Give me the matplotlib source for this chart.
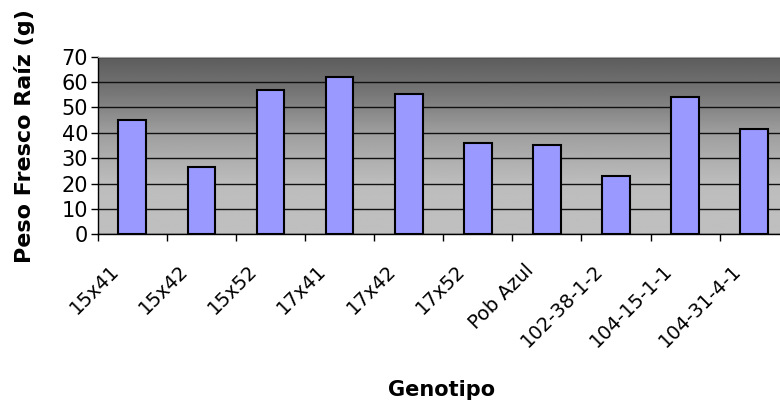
import matplotlib
matplotlib.use('Agg')
import matplotlib.pyplot as plt
from matplotlib.transforms import ScaledTranslation
import numpy as np

genotipos = ['15x41', '15x42', '15x52', '17x41', '17x42', '17x52',
             'Pob Azul', '102-38-1-2', '104-15-1-1', '104-31-4-1']
peso_raiz = [45, 26.5, 57, 62, 55.2, 36, 35.2, 23.1, 54.1, 41.4]
y_ticks = [0, 10, 20, 30, 40, 50, 60, 70]

plt.rcParams['font.family'] = ['DejaVu Sans']

fig = plt.figure(figsize=(7.8, 4.05), dpi=100)
# plot area is wider than the picture on the right, like the original
ax = fig.add_axes([0.1253, 0.4215, 0.886, 0.4385])

x = np.arange(len(genotipos))

# grey gradient background (dark at top, light at bottom)
ys = np.linspace(70, 0, 200)
shade = np.interp(ys, [0, 20, 40, 55, 70], [0.75, 0.74, 0.62, 0.47, 0.36])
ax.imshow(shade.reshape(-1, 1), extent=[-0.5, len(genotipos) - 0.5, 0, 70],
          aspect='auto', cmap='gray', vmin=0, vmax=1, zorder=0)

ax.bar(x, peso_raiz, width=0.4, color='#9999FF', edgecolor='black',
       linewidth=1.5, zorder=2)

ax.set_xlim(-0.5, len(genotipos) - 0.5)
ax.set_ylim(0, 70)
ax.set_yticks(y_ticks)
ax.set_yticklabels([str(v) for v in y_ticks], fontsize=15)
ax.set_axisbelow(True)
ax.yaxis.grid(True, color='#111111', linewidth=1.0)

ax.set_xticks(x)
ax.set_xticklabels(genotipos, fontsize=14, rotation=45, ha='right',
                   va='center', rotation_mode='anchor')
ax.set_xticks(np.arange(len(genotipos) + 1) - 0.5, minor=True)
ax.tick_params(axis='x', which='major', length=0, pad=24)
ax.tick_params(axis='x', which='minor', length=5, width=1, color='black')
ax.tick_params(axis='y', length=5, width=1, pad=2)
for lbl in ax.get_xticklabels():
    lbl.set_transform(lbl.get_transform() + ScaledTranslation(-0.16, 0, fig.dpi_scale_trans))

ax.spines['right'].set_visible(False)
ax.spines['top'].set_color('#a6a6a6')
ax.spines['left'].set_linewidth(1.0)
ax.spines['bottom'].set_linewidth(1.0)

fig.text(25 / 780, 1 - 136 / 405, 'Peso Fresco Raíz (g)', rotation=90,
         ha='center', va='center', fontsize=16, fontweight='bold')
fig.text(442 / 780, 1 - 390 / 405, 'Genotipo', ha='center', va='center',
         fontsize=15, fontweight='bold')

plt.savefig('out.png', dpi=100)
